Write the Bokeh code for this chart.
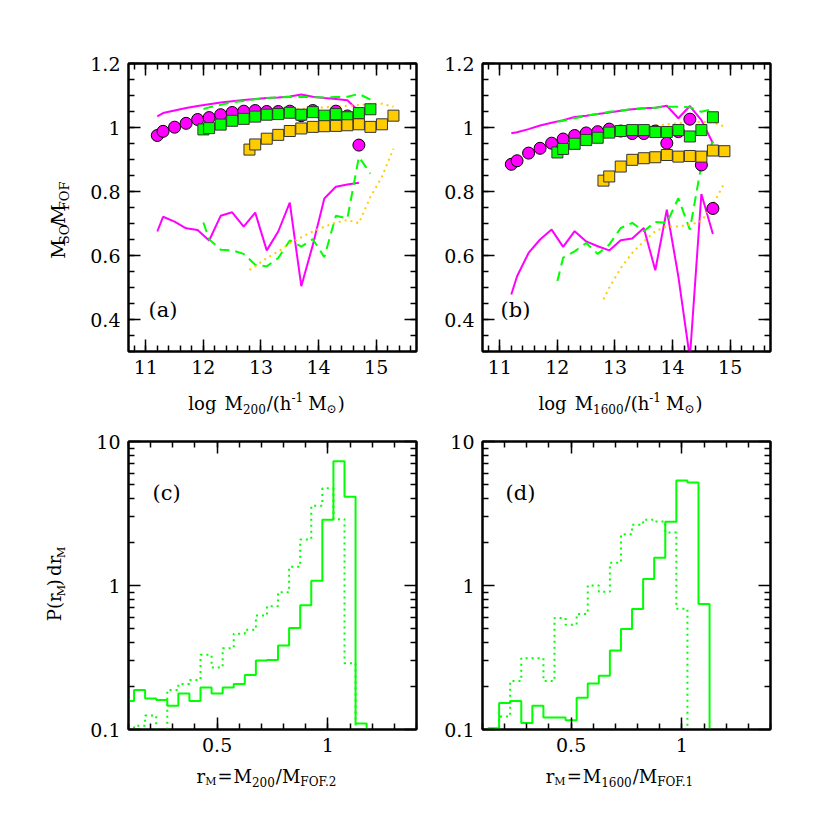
import math
from bokeh.plotting import figure
from bokeh.models import (Range1d, FixedTicker, LinearAxis, CustomJSTickFormatter, Label,
                          ColumnDataSource, CustomJS)
from bokeh.core.properties import value
from bokeh.layouts import column, row
from bokeh.document import Document
from bokeh.embed import file_html
from bokeh.resources import INLINE

FONT = "DejaVu Serif"
MAG = "#FF00FF"
GRN = "#00FF00"
ORG = "#FFCC00"

# ---------------- panel (a): M200 / M_FOF ----------------
a_circ_x = [11.2, 11.3, 11.5, 11.7, 11.9, 12.1, 12.3, 12.5, 12.7, 12.9, 13.1, 13.3, 13.5, 13.7, 13.9, 14.1, 14.3, 14.5, 14.7]
a_circ_y = [0.975, 0.988, 1.001, 1.013, 1.025, 1.031, 1.040, 1.047, 1.051, 1.053, 1.050, 1.050, 1.051, 1.037, 1.053, 1.029, 1.051, 1.036, 0.945]
a_mag_hi = [1.035, 1.045, 1.053, 1.061, 1.067, 1.073, 1.078, 1.082, 1.086, 1.089, 1.092, 1.094, 1.097, 1.103, 1.096, 1.092, 1.089, 1.085, 1.051]
a_mag_lo = [0.675, 0.721, 0.706, 0.685, 0.680, 0.647, 0.724, 0.735, 0.690, 0.734, 0.616, 0.675, 0.765, 0.504, 0.633, 0.778, 0.815, 0.822, 0.827]

a_gsq_x = [12.0, 12.1, 12.3, 12.5, 12.7, 12.9, 13.1, 13.3, 13.5, 13.7, 13.9, 14.1, 14.3, 14.5, 14.7, 14.9]
a_gsq_y = [0.994, 0.998, 1.009, 1.021, 1.027, 1.034, 1.040, 1.042, 1.046, 1.040, 1.048, 1.037, 1.042, 1.032, 1.045, 1.057]
a_grn_hi = [1.058, 1.063, 1.071, 1.079, 1.083, 1.088, 1.092, 1.094, 1.095, 1.095, 1.095, 1.094, 1.095, 1.096, 1.105, 1.087]
a_grn_lo = [0.703, 0.651, 0.618, 0.616, 0.605, 0.571, 0.566, 0.592, 0.647, 0.628, 0.651, 0.595, 0.724, 0.716, 0.908, 0.856]

a_osq_x = [12.8, 12.9, 13.1, 13.3, 13.5, 13.7, 13.9, 14.1, 14.3, 14.5, 14.7, 14.9, 15.1, 15.3]
a_osq_y = [0.931, 0.947, 0.965, 0.977, 0.989, 0.997, 1.002, 1.004, 1.005, 1.007, 1.010, 1.002, 1.010, 1.037]
a_org_hi = [1.037, 1.042, 1.050, 1.053, 1.056, 1.058, 1.061, 1.063, 1.065, 1.068, 1.070, 1.074, 1.074, 1.065]
a_org_lo = [0.555, 0.566, 0.592, 0.612, 0.638, 0.657, 0.675, 0.690, 0.703, 0.711, 0.701, 0.783, 0.846, 0.934]

# ---------------- panel (b): M1600 / M_FOF ----------------
b_circ_x = [11.2, 11.3, 11.5, 11.7, 11.9, 12.1, 12.3, 12.5, 12.7, 12.9, 13.1, 13.3, 13.5, 13.7, 13.9, 14.1, 14.3, 14.5, 14.7]
b_circ_y = [0.885, 0.896, 0.920, 0.935, 0.951, 0.964, 0.975, 0.983, 0.987, 0.995, 0.989, 0.981, 0.981, 0.989, 0.951, 0.987, 1.026, 0.883, 0.747]
b_mag_hi = [0.982, 0.985, 0.995, 1.006, 1.015, 1.023, 1.033, 1.037, 1.042, 1.047, 1.052, 1.057, 1.060, 1.062, 1.068, 1.029, 1.067, 1.023, 0.951]
b_mag_lo = [0.478, 0.535, 0.608, 0.650, 0.681, 0.627, 0.676, 0.644, 0.629, 0.616, 0.648, 0.653, 0.686, 0.554, 0.743, 0.535, 0.280, 0.792, 0.667]

b_gsq_x = [12.0, 12.1, 12.3, 12.5, 12.7, 12.9, 13.1, 13.3, 13.5, 13.7, 13.9, 14.1, 14.3, 14.5, 14.7]
b_gsq_y = [0.922, 0.933, 0.949, 0.961, 0.968, 0.984, 0.989, 0.992, 0.992, 0.986, 0.986, 0.992, 0.972, 0.992, 1.032]
b_grn_hi = [1.018, 1.021, 1.029, 1.037, 1.042, 1.049, 1.053, 1.058, 1.060, 1.062, 1.065, 1.065, 1.063, 1.049, 1.058]
b_grn_lo = [0.520, 0.593, 0.613, 0.639, 0.605, 0.634, 0.686, 0.702, 0.676, 0.705, 0.702, 0.779, 0.681, 0.883, 0.956]

b_osq_x = [12.8, 12.9, 13.1, 13.3, 13.5, 13.7, 13.9, 14.1, 14.3, 14.5, 14.7, 14.9]
b_osq_y = [0.834, 0.847, 0.878, 0.899, 0.904, 0.907, 0.914, 0.909, 0.911, 0.909, 0.928, 0.926]
b_org_hi = [0.966, 0.972, 0.982, 0.989, 0.998, 1.006, 1.010, 1.013, 1.016, 1.018, 1.016, 1.003]
b_org_lo = [0.463, 0.499, 0.561, 0.608, 0.644, 0.676, 0.691, 0.691, 0.696, 0.707, 0.759, 0.826]

# ---------------- panels (c), (d): histograms (bin width 0.05) ----------------
bin_centers = [0.10, 0.15, 0.20, 0.25, 0.30, 0.35, 0.40, 0.45, 0.50, 0.55, 0.60, 0.65,
               0.70, 0.75, 0.80, 0.85, 0.90, 0.95, 1.00, 1.05, 1.10, 1.15, 1.20]
c_solid = [0.158, 0.188, 0.164, 0.160, 0.146, 0.178, 0.158, 0.196, 0.178, 0.196, 0.207, 0.239,
           0.301, 0.304, 0.383, 0.507, 0.729, 1.08, 2.86, 7.29, 4.13, 0.110, 0]
c_dotted = [0, 0.106, 0.125, 0, 0.188, 0.207, 0.221, 0.33, 0.27, 0.367, 0.463, 0.493,
            0.618, 0.718, 0.898, 1.35, 2.09, 3.58, 4.73, 2.89, 0.289, 0, 0]
d_solid = [0, 0.102, 0.153, 0.158, 0.111, 0.146, 0.121, 0.121, 0.116, 0.166, 0.209, 0.236,
           0.354, 0.499, 0.687, 1.11, 1.56, 2.77, 5.35, 5.2, 0.745, 0, 0]
d_dotted = [0, 0, 0.123, 0.217, 0.313, 0.313, 0.217, 0.595, 0.534, 0.634, 1.0, 0.904,
            1.44, 2.27, 2.64, 2.86, 2.78, 2.33, 0.69, 0, 0, 0, 0]
BIN_W = 0.05

# ---------------- ticks ----------------
top_xticks = [11, 12, 13, 14, 15]
top_xminor = [round(10.8 + 0.2 * i, 2) for i in range(25)]
top_yticks = [0.4, 0.6, 0.8, 1.0, 1.2]
top_yminor = [round(0.3 + 0.05 * i, 2) for i in range(19)]
bot_xticks = [0.5, 1.0]
bot_xminor = [round(0.1 + 0.1 * i, 2) for i in range(14)]
bot_yticks = [0.1, 1, 10]
bot_yminor = [m * d for d in (0.1, 1) for m in range(2, 10)]

FMT_CODE = "return String(Number(tick.toPrecision(4)))"

# approximate advance widths (em) used only for initial placement; refined in the browser
W = {' ': 0.318, '.': 0.318, '/': 0.337, '(': 0.390, ')': 0.390, '-': 0.338, '=': 0.838,
     'M': 0.995, 'S': 0.685, 'O': 0.820, 'F': 0.720, 'P': 0.733, 'l': 0.320, 'o': 0.602,
     'g': 0.640, 'h': 0.644, 'r': 0.478, 'd': 0.640, '\u2299': 0.838}
for ch in "0123456789":
    W[ch] = 0.636
MID = 0.35   # centre of a text line above its baseline, in em

RICH_GROUPS = []


def text_width(s, fs):
    return sum(W.get(c, 0.6) for c in s) * fs


def rich(p, pieces, center, base, vertical=False):
    """pieces: (text, font px, baseline shift px, gap before px)."""
    total = sum(text_width(t, fs) + g for t, fs, _, g in pieces)
    pos = center - total / 2.0
    xs, ys = [], []
    for t, fs, dy, g in pieces:
        pos += g
        w = text_width(t, fs)
        if vertical:
            xs.append(base - dy - MID * fs)
            ys.append(pos + w / 2.0)
        else:
            xs.append(pos)
            ys.append(base + dy)
        pos += w
    src = ColumnDataSource(data=dict(
        x=xs, y=ys, text=[t for t, _, _, _ in pieces], fs=[fs for _, fs, _, _ in pieces],
        fsz=[f"{fs}px" for _, fs, _, _ in pieces], dy=[dy for _, _, dy, _ in pieces],
        gap=[g for _, _, _, g in pieces]))
    if vertical:
        p.text(x="x", y="y", text="text", source=src, text_font=value(FONT), text_font_size="fsz",
               text_color="black", text_align="center", text_baseline="middle", angle=math.pi / 2)
    else:
        p.text(x="x", y="y", text="text", source=src, text_font=value(FONT), text_font_size="fsz",
               text_color="black", text_align="left", text_baseline="alphabetic")
    RICH_GROUPS.append([src, center, base, 1 if vertical else 0])


def label_fig(w, h):
    p = figure(width=w, height=h, x_range=Range1d(0, w), y_range=Range1d(0, h),
               x_axis_location=None, y_axis_location=None, toolbar_location=None,
               output_backend="svg", title=None, min_border=0)
    p.grid.visible = False
    p.outline_line_color = None
    p.background_fill_color = "white"
    p.border_fill_color = "white"
    return p


def style_axis(ax, ticks, minor, show):
    ax.ticker = FixedTicker(ticks=ticks, minor_ticks=minor)
    ax.axis_line_color = "black"
    ax.axis_line_width = 2
    ax.major_tick_in = 12
    ax.major_tick_out = 0
    ax.minor_tick_in = 6
    ax.minor_tick_out = 0
    ax.major_tick_line_width = 1.5
    ax.minor_tick_line_width = 1.5
    ax.major_tick_line_color = "black"
    ax.minor_tick_line_color = "black"
    if show:
        ax.formatter = CustomJSTickFormatter(code=FMT_CODE)
        ax.major_label_text_font = FONT
        ax.major_label_text_font_size = "19px"
        ax.major_label_text_color = "black"
        ax.major_label_standoff = 8
    else:
        ax.formatter = CustomJSTickFormatter(code="return ''")
        ax.major_label_text_font_size = "0px"
        ax.major_label_standoff = 0


def make_fig(xr, yr, ylog, left, right, top, bottom, xt, xm, yt, ym):
    p = figure(frame_width=288, frame_height=288, x_range=Range1d(*xr), y_range=Range1d(*yr),
               y_axis_type="log" if ylog else "linear", toolbar_location=None,
               output_backend="svg", title=None,
               min_border_left=left, min_border_right=right,
               min_border_top=top, min_border_bottom=bottom)
    p.xgrid.visible = False
    p.ygrid.visible = False
    p.outline_line_color = "black"
    p.outline_line_width = 2
    p.background_fill_color = "white"
    p.border_fill_color = "white"
    style_axis(p.xaxis[0], xt, xm, True)
    style_axis(p.yaxis[0], yt, ym, True)
    ax_top = LinearAxis()
    ax_right = LinearAxis()
    style_axis(ax_top, xt, xm, False)
    style_axis(ax_right, yt, ym, False)
    p.add_layout(ax_top, "above")
    p.add_layout(ax_right, "right")
    return p


def draw_top(p, cx, cy, mhi, mlo, gx, gy, ghi, glo, ox, oy, ohi, olo):
    p.line(cx, mhi, line_color=MAG, line_width=2)
    p.line(cx, mlo, line_color=MAG, line_width=2)
    p.line(gx, ghi, line_color=GRN, line_width=2, line_dash="10 6")
    p.line(gx, glo, line_color=GRN, line_width=2, line_dash="10 6")
    p.line(ox, ohi, line_color=ORG, line_width=2, line_dash="2 4")
    p.line(ox, olo, line_color=ORG, line_width=2, line_dash="2 4")
    p.scatter(cx, cy, marker="circle", size=12, fill_color=MAG, line_color="black", line_width=1)
    p.scatter(gx, gy, marker="square", size=11, fill_color=GRN, line_color="#333333", line_width=1)
    p.scatter(ox, oy, marker="square", size=11, fill_color=ORG, line_color="#333333", line_width=1)


def draw_hist(p, vals, dash):
    edges = [c - BIN_W / 2 for c in bin_centers] + [bin_centers[-1] + BIN_W / 2]
    ys = [v if v > 0 else 0.01 for v in vals]
    ys = ys + [ys[-1]]
    kw = dict(line_color=GRN, line_width=2, mode="after")
    if dash:
        kw["line_dash"] = "2 4"
    p.step(edges, ys, **kw)


def panel_letter(p, t, x, y):
    lab = Label(x=x, y=y, x_units="screen", y_units="screen", text=t, text_font=FONT,
                text_font_size="21px", text_color="black", text_align="left",
                text_baseline="alphabetic")
    p.add_layout(lab)


# layout: [ylab | (a) | (b)] / xlabels / [ylab | (c) | (d)] / xlabels
pa = make_fig((10.7, 15.7), (0.3, 1.2), False, 48, 10, 63, 30, top_xticks, top_xminor, top_yticks, top_yminor)
pb = make_fig((10.7, 15.7), (0.3, 1.2), False, 56, 40, 63, 30, top_xticks, top_xminor, top_yticks, top_yminor)
pc = make_fig((0.1, 1.4), (0.1, 10), True, 48, 10, 20, 27, bot_xticks, bot_xminor, bot_yticks, bot_yminor)
pd = make_fig((0.1, 1.4), (0.1, 10), True, 56, 40, 20, 27, bot_xticks, bot_xminor, bot_yticks, bot_yminor)

draw_top(pa, a_circ_x, a_circ_y, a_mag_hi, a_mag_lo, a_gsq_x, a_gsq_y, a_grn_hi, a_grn_lo,
         a_osq_x, a_osq_y, a_org_hi, a_org_lo)
draw_top(pb, b_circ_x, b_circ_y, b_mag_hi, b_mag_lo, b_gsq_x, b_gsq_y, b_grn_hi, b_grn_lo,
         b_osq_x, b_osq_y, b_org_hi, b_org_lo)
draw_hist(pc, c_dotted, True)
draw_hist(pc, c_solid, False)
draw_hist(pd, d_dotted, True)
draw_hist(pd, d_solid, False)

panel_letter(pa, "(a)", 20, 42)
panel_letter(pb, "(b)", 18, 42)
panel_letter(pc, "(c)", 24, 237)
panel_letter(pd, "(d)", 23, 237)

ya = label_fig(80, 381)
rich(ya, [("M", 19, 0, 0), ("SO", 13, -5, 0), ("/", 19, 0, 1), ("M", 19, 0, 0), ("FOF", 13, -5, 0)],
     173, 64, vertical=True)
xla = label_fig(810, 40)
rich(xla, [("log", 18, 0, 0), ("M", 18, 0, 8), ("200", 12, -5, 0), ("/(h", 18, 0, 1), ("-1", 12, 7, 0),
           ("M", 18, 0, 5), ("\u2299", 12, -5, 0), (")", 18, 0, 1)], 266, 18)
rich(xla, [("log", 18, 0, 0), ("M", 18, 0, 8), ("1600", 12, -5, 0), ("/(h", 18, 0, 1), ("-1", 12, 7, 0),
           ("M", 18, 0, 5), ("\u2299", 12, -5, 0), (")", 18, 0, 1)], 620, 18)
yc = label_fig(80, 335)
rich(yc, [("P(r", 18, 0, 0), ("M", 11, -5, 0), (")", 18, 0, 0), ("dr", 18, 0, 6), ("M", 11, -5, 0)],
     170, 60, vertical=True)
xlc = label_fig(810, 44)
rich(xlc, [("r", 18, 0, 0), ("M", 11, -5, 0), ("=", 18, 0, 1), ("M", 18, 0, 1), ("200", 12, -5, 0),
           ("/", 18, 0, 1), ("M", 18, 0, 0), ("FOF.2", 12, -5, 0)], 266, 24)
rich(xlc, [("r", 18, 0, 0), ("M", 11, -5, 0), ("=", 18, 0, 1), ("M", 18, 0, 1), ("1600", 12, -5, 0),
           ("/", 18, 0, 1), ("M", 18, 0, 0), ("FOF.1", 12, -5, 0)], 619, 24)

# refine piece positions with the browser's own text metrics
relayout = CustomJS(args=dict(groups=RICH_GROUPS, font=FONT, mid=MID), code="""
const ctx = document.createElement('canvas').getContext('2d');
for (const g of groups) {
  const src = g[0], center = g[1], base = g[2], vertical = g[3];
  const d = src.data;
  const n = d.text.length;
  const w = [];
  let total = 0;
  for (let i = 0; i < n; i++) {
    ctx.font = d.fs[i] + 'px "' + font + '"';
    const wi = ctx.measureText(d.text[i]).width;
    w.push(wi);
    total += wi + d.gap[i];
  }
  let pos = center - total / 2;
  const xs = [], ys = [];
  for (let i = 0; i < n; i++) {
    pos += d.gap[i];
    if (vertical) { xs.push(base - d.dy[i] - mid * d.fs[i]); ys.push(pos + w[i] / 2); }
    else { xs.push(pos); ys.push(base + d.dy[i]); }
    pos += w[i];
  }
  const nd = {};
  for (const k of Object.keys(d)) nd[k] = d[k];
  nd.x = xs; nd.y = ys;
  src.data = nd;
}
""")

layout = column(row(ya, pa, pb), xla, row(yc, pc, pd), xlc)
doc = Document()
doc.add_root(layout)
doc.js_on_event("document_ready", relayout)
open("out.html", "w").write(file_html(doc, INLINE))
